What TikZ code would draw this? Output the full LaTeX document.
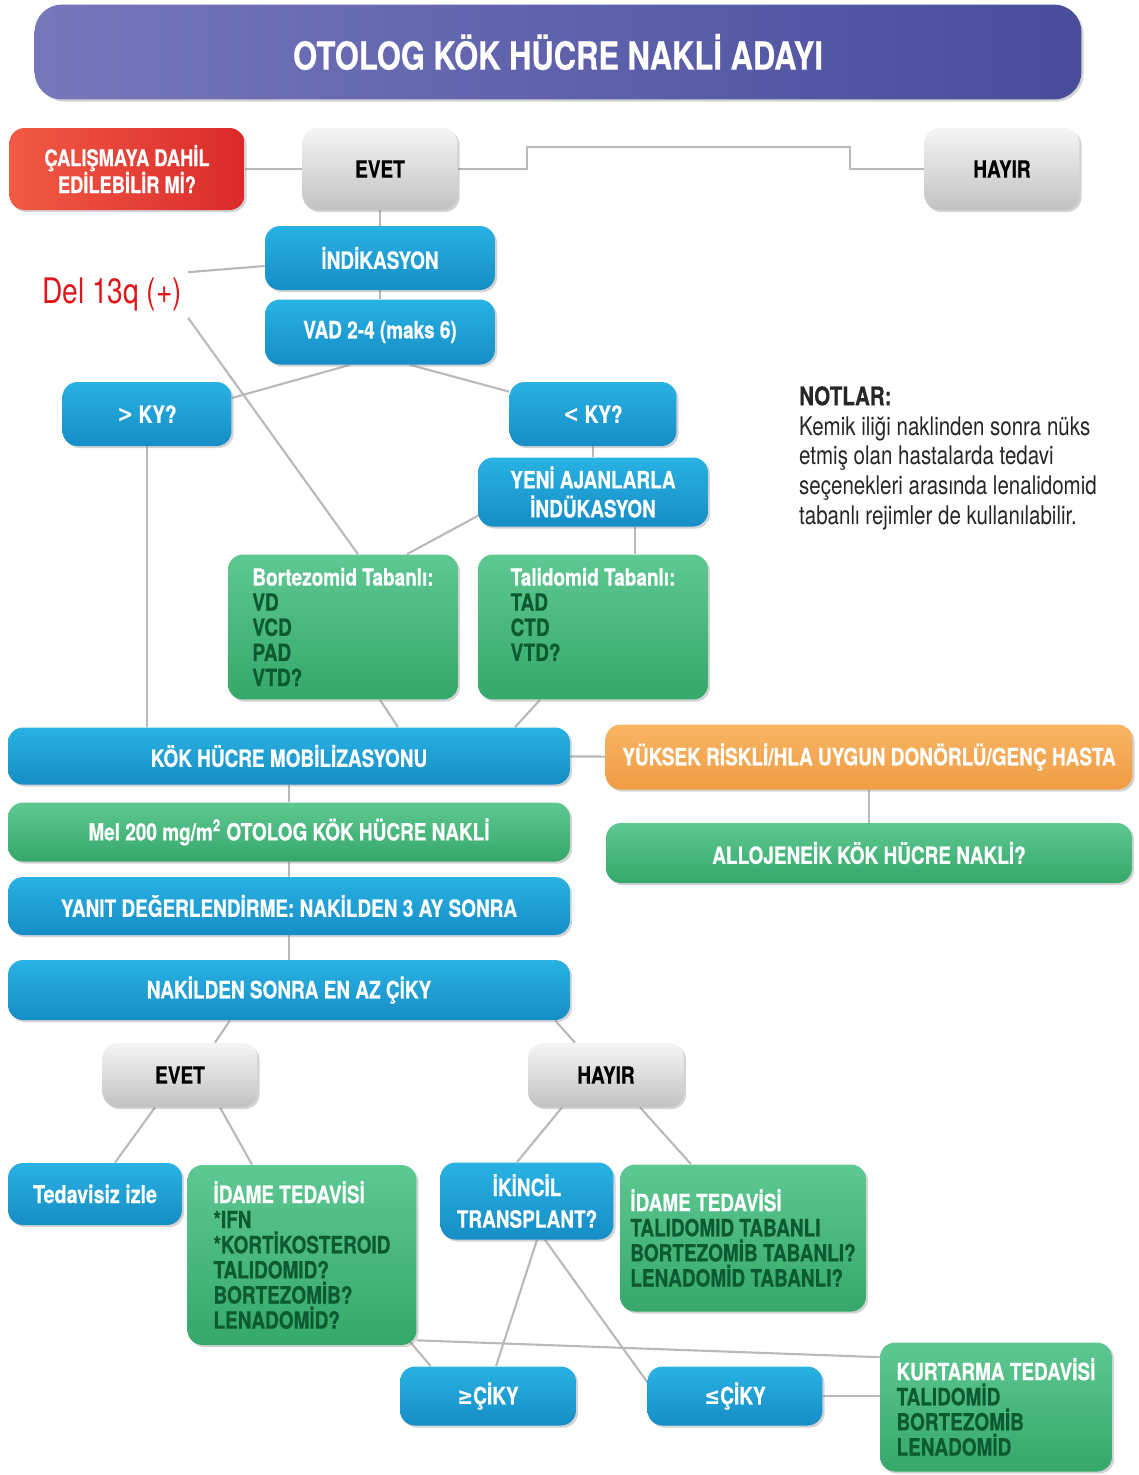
\documentclass[tikz,border=0pt]{standalone}
\usepackage{fontspec}
\setmainfont{TeX Gyre Heros}[FakeStretch=0.8, BoldFeatures={FakeBold=0.5}]
\newfontfamily\symfont{DejaVu Sans}[FakeStretch=0.8]
\usetikzlibrary{positioning,calc,shadows}

\pgfdeclarelayer{background}
\pgfsetlayers{background,main}

\definecolor{hdrL}{HTML}{7677BB}
\definecolor{hdrD}{HTML}{484C9B}
\definecolor{redL}{HTML}{F15A45}
\definecolor{redD}{HTML}{DA2A2A}
\definecolor{gryL}{HTML}{F5F5F5}
\definecolor{gryD}{HTML}{C2C2C2}
\definecolor{bluL}{HTML}{29B2E3}
\definecolor{bluD}{HTML}{168DC6}
\definecolor{grnL}{HTML}{5EC892}
\definecolor{grnD}{HTML}{35A86A}
\definecolor{grnT}{HTML}{0B5A30}
\definecolor{orgL}{HTML}{F8B564}
\definecolor{orgD}{HTML}{F09C44}
\definecolor{wire}{HTML}{B9B9B9}
\definecolor{delred}{HTML}{E0161B}

\begin{document}
\begin{tikzpicture}[x=0.02cm, y=-0.02cm]
  % Define styles
  \tikzstyle{box} = [rectangle, rounded corners=0.3cm, align=center, inner sep=2pt,
    font=\bfseries\fontsize{13.5}{16}\selectfont,
    drop shadow={shadow xshift=1.2pt, shadow yshift=-1.2pt, opacity=0.35}]
  \tikzstyle{header} = [box, rounded corners=0.55cm, left color=hdrL, right color=hdrD, text=white, font=\bfseries\fontsize{22}{26}\selectfont]
  \tikzstyle{redbox} = [box, left color=redL, right color=redD, text=white, font=\bfseries\fontsize{13}{15.3}\selectfont]
  \tikzstyle{graybox} = [box, top color=gryL, bottom color=gryD, text=black]
  \tikzstyle{bluebox} = [box, top color=bluL, bottom color=bluD, text=white]
  \tikzstyle{greenbox} = [box, top color=grnL, bottom color=grnD, text=white]
  \tikzstyle{listbox} = [greenbox, align=left, text=grnT, font=\bfseries\fontsize{13.5}{14.3}\selectfont]
  \tikzstyle{orangebox} = [box, top color=orgL, bottom color=orgD, text=white]
  \tikzstyle{line} = [draw, wire, line width=1.2pt]

  \useasboundingbox (0,0) rectangle (1139,1475);

  % Place nodes
  \node [header, minimum width=20.94cm, minimum height=1.9cm] (title) at (558,52) {OTOLOG KÖK HÜCRE NAKLİ ADAYI};
  \node [redbox, minimum width=4.7cm, minimum height=1.64cm] (calisma) at (127,169) {ÇALIŞMAYA DAHİL\\EDİLEBİLİR Mİ?};
  \node [graybox, minimum width=3.1cm, minimum height=1.64cm] (evet1) at (380,169) {EVET};
  \node [graybox, minimum width=3.1cm, minimum height=1.64cm] (hayir1) at (1002,169) {HAYIR};
  \node [bluebox, minimum width=4.6cm, minimum height=1.28cm] (indik) at (380,258) {İNDİKASYON};
  \node [bluebox, minimum width=4.6cm, minimum height=1.3cm] (vad) at (380,332) {VAD 2-4 (maks 6)};
  \node [text=delred, font=\fontsize{20}{24}\selectfont] (del13) at (112,295) {Del 13q (+)};
  \node [bluebox, minimum width=3.38cm, minimum height=1.28cm] (gtky) at (147,414) {{\symfont >} KY?};
  \node [bluebox, minimum width=3.34cm, minimum height=1.28cm] (ltky) at (593,414) {{\symfont <} KY?};
  \node [bluebox, minimum width=4.6cm, minimum height=1.38cm, font=\bfseries\fontsize{13.5}{16.5}\selectfont] (yeni) at (593,492) {YENİ AJANLARLA\\İNDÜKASYON};
  \node [anchor=north west, align=left, text=black!85, font=\fontsize{14.6}{17}\selectfont] (notes) at (793,380)
    {\textbf{NOTLAR:}\\Kemik iliği naklinden sonra nüks\\etmiş olan hastalarda tedavi\\seçenekleri arasında lenalidomid\\tabanlı rejimler de kullanılabilir.};
  \node [listbox, minimum width=4.6cm, minimum height=2.9cm] (bort) at (343,627) {\textcolor{white}{Bortezomid Tabanlı:}\\VD\\VCD\\PAD\\VTD?};
  \node [listbox, minimum width=4.6cm, minimum height=2.9cm] (tali) at (593,627) {\textcolor{white}{Talidomid Tabanlı:}\\TAD\\CTD\\VTD?\\\mbox{}};
  \node [bluebox, minimum width=11.24cm, minimum height=1.14cm] (mobil) at (289,756) {KÖK HÜCRE MOBİLİZASYONU};
  \node [orangebox, minimum width=10.54cm, minimum height=1.3cm] (yuksek) at (869,757) {YÜKSEK RİSKLİ/HLA UYGUN DONÖRLÜ/GENÇ HASTA};
  \node [greenbox, minimum width=11.24cm, minimum height=1.18cm] (mel) at (289,832) {Mel 200 mg/m\textsuperscript{2} OTOLOG KÖK HÜCRE NAKLİ};
  \node [greenbox, minimum width=10.52cm, minimum height=1.2cm] (allo) at (869,853) {ALLOJENEİK KÖK HÜCRE NAKLİ?};
  \node [bluebox, minimum width=11.24cm, minimum height=1.16cm] (yanit) at (289,906) {YANIT DEĞERLENDİRME: NAKİLDEN 3 AY SONRA};
  \node [bluebox, minimum width=11.24cm, minimum height=1.2cm] (nakil) at (289,990) {NAKİLDEN SONRA EN AZ ÇİKY};
  \node [graybox, minimum width=3.1cm, minimum height=1.28cm] (evet2) at (180,1075) {EVET};
  \node [graybox, minimum width=3.12cm, minimum height=1.28cm] (hayir2) at (606,1075) {HAYIR};
  \node [bluebox, minimum width=3.48cm, minimum height=1.24cm, font=\bfseries\fontsize{14}{16}\selectfont] (tedav) at (95,1194) {Tedavisiz izle};
  \node [listbox, minimum width=4.58cm, minimum height=3.6cm] (idame1) at (302,1255)
    {\textcolor{white}{İDAME TEDAVİSİ}\\*IFN\\*KORTİKOSTEROID\\TALIDOMID?\\BORTEZOMİB?\\LENADOMİD?};
  \node [bluebox, minimum width=3.46cm, minimum height=1.54cm, font=\bfseries\fontsize{13.5}{18}\selectfont] (ikincil) at (527,1201) {İKİNCİL\\TRANSPLANT?};
  \node [listbox, minimum width=4.92cm, minimum height=2.94cm] (idame2) at (743,1238)
    {\textcolor{white}{İDAME TEDAVİSİ}\\TALIDOMID TABANLI\\BORTEZOMİB TABANLI?\\LENADOMİD TABANLI?};
  \node [bluebox, minimum width=3.52cm, minimum height=1.18cm] (gtciky) at (488,1396) {{\symfont ≥}ÇİKY};
  \node [bluebox, minimum width=3.5cm, minimum height=1.18cm] (ltciky) at (735,1396) {{\symfont ≤}ÇİKY};
  \node [listbox, minimum width=4.64cm, minimum height=2.58cm] (kurt) at (996,1407)
    {\textcolor{white}{KURTARMA TEDAVİSİ}\\TALIDOMİD\\BORTEZOMİB\\LENADOMİD};

  \coordinate (stepL) at (527,147);
  \coordinate (stepR) at (850,147);

  % Draw edges
  \begin{pgfonlayer}{background}
  \path [line] (calisma) -- (evet1);
  \path [line] (evet1) -| (stepL) -- (stepR) |- (hayir1);
  \path [line] (evet1) -- (indik);
  \path [line] (indik) -- (vad);
  \path [line] (del13.north east) -- ($(indik.west)+(0,8)$);
  \path [line] (del13.south east) -- ($(bort.north)+(15,0)$);
  \path [line] ($(vad.south)+(-30,0)$) -- ($(gtky.east)+(0,-16)$);
  \path [line] ($(vad.south)+(30,0)$) -- ($(ltky.north west)+(0,10)$);
  \path [line] (gtky) -- (gtky |- mobil.north);
  \path [line] (ltky) -- (yeni);
  \path [line] ($(yeni.south)+(42,0)$) -- ($(tali.north)+(42,0)$);
  \path [line] ($(yeni.south west)+(2,-12)$) -- ($(bort.north)+(64,0)$);
  \path [line] ($(bort.south)+(37,0)$) -- ($(mobil.north)+(109,0)$);
  \path [line] ($(tali.south)+(-53,0)$) -- ($(mobil.north)+(226,0)$);
  \path [line] (mobil) -- (yuksek);
  \path [line] (mobil) -- (mel);
  \path [line] (mel) -- (yanit);
  \path [line] (yanit) -- (nakil);
  \path [line] (yuksek) -- (allo);
  \path [line] ($(nakil.south)+(-59,0)$) -- ($(evet2.north)+(35,0)$);
  \path [line] ($(nakil.south)+(266,0)$) -- ($(hayir2.north)+(-31,0)$);
  \path [line] ($(evet2.south)+(-25,0)$) -- ($(tedav.north)+(20,0)$);
  \path [line] ($(evet2.south)+(40,0)$) -- ($(idame1.north)+(-50,0)$);
  \path [line] ($(hayir2.south)+(-44,0)$) -- ($(ikincil.north)+(-10,0)$);
  \path [line] ($(hayir2.south)+(34,0)$) -- ($(idame2.north)+(-52,0)$);
  \path [line] ($(idame1.south east)+(-8,-5)$) -- ($(gtciky.north west)+(31,0)$);
  \path [line] ($(idame1.south east)+(0,-5)$) -- ($(kurt.north west)+(0,15)$);
  \path [line] ($(ikincil.south)+(10,0)$) -- ($(gtciky.north)+(8,0)$);
  \path [line] ($(ikincil.south)+(18,0)$) -- ($(ltciky.west)+(0,-14)$);
  \path [line] (ltciky) -- (ltciky -| kurt.west);
  \end{pgfonlayer}
\end{tikzpicture}
\end{document}
